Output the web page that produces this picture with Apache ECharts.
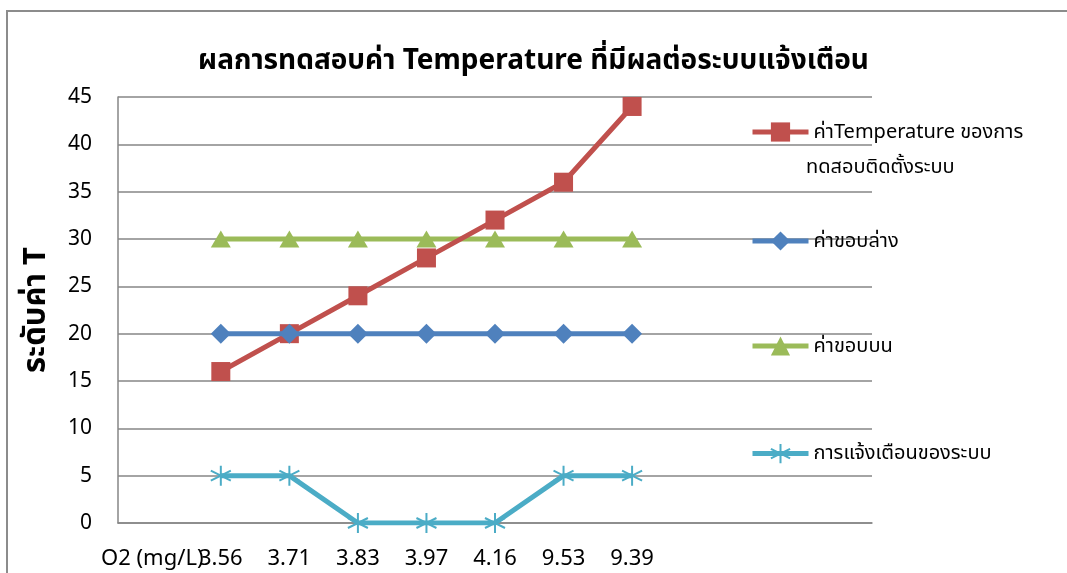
<!DOCTYPE html>
<html>
<head>
<meta charset="utf-8">
<script src="https://cdn.jsdelivr.net/npm/echarts@6/dist/echarts.min.js"></script>
<style>
  html, body { margin: 0; padding: 0; background: #fff; }
  #chart { width: 1067px; height: 573px; }
</style>
</head>
<body>
<div id="chart"></div>
<script>
// Oxygen readings on the x axis; the first slot holds the axis caption,
// the trailing empty slots leave room for the legend on the right.
const categories = ['O2 (mg/L)', '3.56', '3.71', '3.83', '3.97', '4.16', '9.53', '9.39', '', '', ''];

const tempSeriesName = 'ค่าTemperature ของการทดสอบติดตั้งระบบ';
const lowerName = 'ค่าขอบล่าง';
const upperName = 'ค่าขอบบน';
const alertName = 'การแจ้งเตือนของระบบ';

const temperature = [null, 16, 20, 24, 28, 32, 36, 44];
const lowerBound  = [null, 20, 20, 20, 20, 20, 20, 20];
const upperBound  = [null, 30, 30, 30, 30, 30, 30, 30];
const alerts      = [null, 5, 5, 0, 0, 0, 5, 5];

const yTicks = { min: 0, max: 45, interval: 5 };

const FONT = "'Noto Sans', 'Noto Sans Thai', Tahoma, 'DejaVu Sans', sans-serif";
const RED = '#C0504D', BLUE = '#4F81BD', GREEN = '#9BBB59', CYAN = '#4BACC6';

// six-armed asterisk drawn as strokes
const starPath = 'path://M50,0 L50,100 M7,25 L93,75 M7,75 L93,25';

const chart = echarts.init(document.getElementById('chart'), null, { renderer: 'canvas' });

function legendAt(name, top, formatter) {
  return {
    data: [name],
    orient: 'vertical',
    left: 745,
    top: top,
    itemWidth: 56,
    itemHeight: 24,
    formatter: formatter,
    lineStyle: { width: 5 },
    textStyle: { fontFamily: FONT, fontSize: 20, color: '#000' }
  };
}

const option = {
  backgroundColor: '#fff',
  animation: false,
  title: {
    text: 'ผลการทดสอบค่า Temperature ที่มีผลต่อระบบแจ้งเตือน',
    left: 'center',
    top: 42,
    textStyle: { fontFamily: FONT, fontSize: 28, fontWeight: 'bold', color: '#000' }
  },
  legend: [
    legendAt(tempSeriesName, 117, () => 'ค่าTemperature ของการ'),
    legendAt(lowerName, 226),
    legendAt(upperName, 331),
    legendAt(alertName, 438)
  ],
  grid: { left: 118, right: 195, top: 97, bottom: 50 },
  xAxis: {
    type: 'category',
    data: categories,
    boundaryGap: true,
    axisLine: { show: true, lineStyle: { color: '#868686', width: 1.5 } },
    axisTick: { show: false },
    axisLabel: { interval: 0, margin: 25, fontFamily: FONT, fontSize: 22, color: '#000' },
    splitLine: { show: false }
  },
  yAxis: {
    type: 'value',
    min: yTicks.min,
    max: yTicks.max,
    interval: yTicks.interval,
    name: 'ระดับค่า T',
    nameLocation: 'middle',
    nameGap: 66,
    nameRotate: 90,
    nameTextStyle: { fontFamily: FONT, fontSize: 31, fontWeight: 'bold', color: '#000' },
    axisLine: { show: true, lineStyle: { color: '#868686', width: 1.5 } },
    axisTick: { show: false },
    axisLabel: { margin: 26, fontFamily: FONT, fontSize: 21, color: '#000' },
    splitLine: { show: true, lineStyle: { color: '#868686', width: 1.5 } }
  },
  graphic: [
    {
      type: 'rect',
      shape: { x: 7, y: 11, width: 1200, height: 700 },
      style: { fill: 'none', stroke: '#8c8c8c', lineWidth: 2 },
      z: -1
    },
    {
      type: 'text',
      left: 806,
      top: 157,
      style: { text: 'ทดสอบติดตั้งระบบ', font: '20px ' + FONT, fill: '#000' }
    }
  ],
  series: [
    {
      name: tempSeriesName,
      type: 'line',
      data: temperature,
      symbol: 'rect',
      symbolSize: 19,
      itemStyle: { color: RED },
      lineStyle: { color: RED, width: 5 },
      z: 4
    },
    {
      name: lowerName,
      type: 'line',
      data: lowerBound,
      symbol: 'diamond',
      symbolSize: [20, 20],
      itemStyle: { color: BLUE },
      lineStyle: { color: BLUE, width: 5 },
      z: 5
    },
    {
      name: upperName,
      type: 'line',
      data: upperBound,
      symbol: 'triangle',
      symbolSize: [20, 17],
      itemStyle: { color: GREEN },
      lineStyle: { color: GREEN, width: 5 },
      z: 3
    },
    {
      name: alertName,
      type: 'line',
      data: alerts,
      symbol: starPath,
      symbolSize: [20, 20],
      itemStyle: { color: 'rgba(0,0,0,0)', borderColor: CYAN, borderWidth: 2 },
      lineStyle: { color: CYAN, width: 5 },
      z: 3
    }
  ]
};

chart.setOption(option);
</script>
</body>
</html>
